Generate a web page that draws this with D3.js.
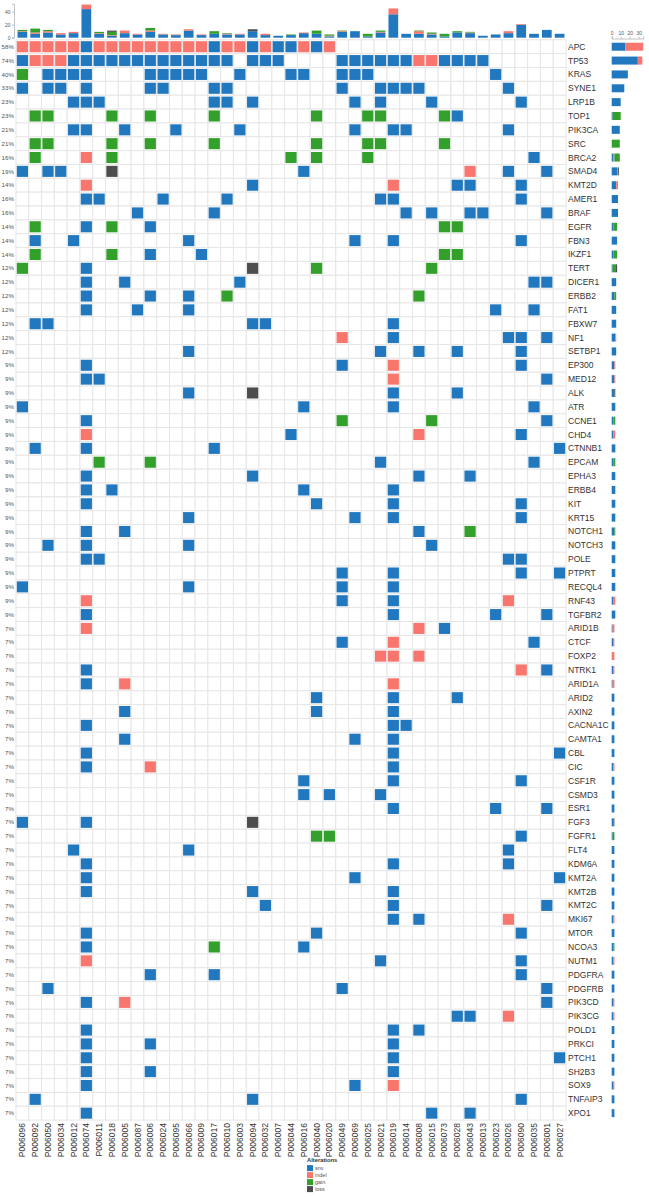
<!DOCTYPE html>
<html><head><meta charset="utf-8">
<script src="https://cdn.jsdelivr.net/npm/d3@7"></script>
<style>
html,body{margin:0;padding:0;background:#fff;}
svg{display:block;font-family:"Liberation Sans",Arial,sans-serif;}
</style></head>
<body><svg id="chart" width="649" height="1197"></svg>
<script>
const samples = ["P006096","P006092","P006050","P006034","P006012","P006074","P006011","P006018","P006005","P006087","P006006","P006024","P006095","P006066","P006009","P006017","P006010","P006003","P006094","P006032","P006007","P006044","P006016","P006040","P006020","P006049","P006069","P006025","P006021","P006019","P006014","P006008","P006015","P006073","P006028","P006043","P006013","P006023","P006026","P006090","P006035","P006001","P006027"];

const genes = ["APC","TP53","KRAS","SYNE1","LRP1B","TOP1","PIK3CA","SRC","BRCA2","SMAD4","KMT2D","AMER1","BRAF","EGFR","FBN3","IKZF1","TERT","DICER1","ERBB2","FAT1","FBXW7","NF1","SETBP1","EP300","MED12","ALK","ATR","CCNE1","CHD4","CTNNB1","EPCAM","EPHA3","ERBB4","KIT","KRT15","NOTCH1","NOTCH3","POLE","PTPRT","RECQL4","RNF43","TGFBR2","ARID1B","CTCF","FOXP2","NTRK1","ARID1A","ARID2","AXIN2","CACNA1C","CAMTA1","CBL","CIC","CSF1R","CSMD3","ESR1","FGF3","FGFR1","FLT4","KDM6A","KMT2A","KMT2B","KMT2C","MKI67","MTOR","NCOA3","NUTM1","PDGFRA","PDGFRB","PIK3CD","PIK3CG","POLD1","PRKCI","PTCH1","SH2B3","SOX9","TNFAIP3","XPO1"];

// alterations per gene: type letter (s=snv, i=indel, g=gain, l=loss) + sample index or range
const geneAlterations = [
"i0-4 s5 i6-14 s15 i16-17 s18 i19 s20-21 i22 s23 i24",
"s0 i1-3 s4-16 s18-20 s25-30 i31-32 s33-36",
"g0 s2-5 s10-14 s17 s21-22 s25-27 s37",
"s0 s2-3 s5 s10-11 s15-16 s25 s28-31 s38",
"s4-6 s15-16 s18 s26 s28 s32 s39",
"g1-2 g7 g10 g15 g23 g27-28 g33 s34",
"s4-5 s8 s12 s17 s26 s29-30 s38",
"g1-2 g7 g10 g15 g23 g27-28 g33",
"g1 i5 g7 g21 g23 g27 s40",
"s0 s2-3 l7 s22 i35 s38 s41",
"i5 s18 i29 s34-35 s39",
"s5-6 s11 s16 s28-29 s39",
"s9 s15 s30 s32 s35-36 s41",
"g1 s5 g7 s10 g33-34",
"s1 s4 s13 s26 s29 s39",
"g1 g7 s10 s14 g33-34",
"g0 s5 l18 g23 g32",
"s5 s8 s17 s40-41",
"s5 s10 s13 g16 g31",
"s5 s9 s13 s37 s40",
"s1-2 s18-19 s29",
"i25 s29 s38-39 s41",
"s13 s28 s31 s34 s39",
"s5 s25 i29 s39",
"s5-6 i29 s41",
"s13 l18 s29 s34",
"s0 s22 s29 s40",
"s5 g25 g32 s41",
"i5 s21 i31 s39",
"s1 s5 s15 s42",
"g6 g10 s28 s40",
"s5 s18 s31 s35",
"s5 s7 s22 s29",
"s5 s23 s29 s39",
"s13 s26 s29 s39",
"s5 s8 s31 g35",
"s2 s5 s13 s32",
"s5-6 s38-39",
"s25 s29 s39 s42",
"s0 s13 s25 s29",
"i5 s25 s29 i38",
"s5 s29 s37 s41",
"i5 i31 s33",
"s25 i29 s40",
"i28 i29 i31",
"s5 i39 s41",
"s5 i8 i29",
"s23 s29 s34",
"s8 s23 s29",
"s5 s29-30",
"s8 s26 s29",
"s5 s29 s42",
"s5 i10 s29",
"s22 s29 s39",
"s22 s24 s28",
"s29 s37 s41",
"s0 s5 l18",
"g23-24 s39",
"s4 s13 s38",
"s5 s29 s38",
"s5 s26 s42",
"s5 s18 s29",
"s19 s29 s41",
"s29 s31 i38",
"s5 s23 s39",
"s5 g15 s22",
"i5 s28 s39",
"s10 s15 s39",
"s2 s25 s41",
"s5 i8 s41",
"s34-35 i38",
"s5 s29 s31",
"s5 s10 s29",
"s5 s29 s42",
"s5 s10 s29",
"s5 s26 i29",
"s1 s18 s39",
"s5 s32 s35"
];

// per-sample alteration counts (top bar chart)
const sampleSnv   = [9,6,8,5,7,44,6,3,7,5,9,5,4,11,4,6,5,5,10,4,3,4,7,6,2,9,10,2,8,36,6,6,5,2,8,7,3,5,7,20,6,12,6];
const sampleIndel = [1,2,2,2,2,7,1,1,4,1,2,1,1,2,1,0,1,1,0,2,0,0,1,0,1,1,0,0,1,9,0,4,1,0,0,1,0,0,3,1,0,0,0];
const sampleGain  = [2,6,2,0,0,0,2,5,0,0,4,0,0,0,0,4,1,0,0,0,0,1,0,5,2,1,0,4,2,0,0,1,2,4,2,1,0,0,0,0,0,0,0];
const sampleLoss  = [0,0,0,0,0,0,0,2,0,0,0,0,0,0,0,0,0,0,3,0,0,0,0,0,0,0,0,0,0,0,0,0,0,0,0,0,0,0,0,0,0,0,0];

// per-gene alteration counts (right bar chart)
const geneSnv   = [15,29,17,14,10,1,9,0,2,6,5,7,7,2,6,2,1,5,3,5,5,4,5,3,3,3,4,2,2,4,2,4,4,4,4,3,4,4,4,4,2,4,1,2,0,2,1,3,3,3,3,3,2,3,3,3,2,1,3,3,3,3,3,2,3,2,2,3,3,2,2,3,3,3,3,2,3,3];
const geneIndel = [20,5,0,0,0,0,0,0,1,1,2,0,0,0,0,0,0,0,0,0,0,1,0,1,1,0,0,0,2,0,0,0,0,0,0,0,0,0,0,0,2,0,2,1,3,1,2,0,0,0,0,0,1,0,0,0,0,0,0,0,0,0,0,1,0,0,1,0,0,1,1,0,0,0,0,1,0,0];
const geneGain  = [0,0,1,0,0,9,0,9,6,0,0,0,0,4,0,4,3,0,2,0,0,0,0,0,0,0,0,2,0,0,2,0,0,0,0,1,0,0,0,0,0,0,0,0,0,0,0,0,0,0,0,0,0,0,0,0,0,2,0,0,0,0,0,0,0,1,0,0,0,0,0,0,0,0,0,0,0,0];
const geneLoss  = [0,0,0,0,0,0,0,0,0,1,0,0,0,0,0,0,2,0,0,0,0,0,0,0,0,1,0,0,0,0,0,0,0,0,0,0,0,0,0,0,0,0,0,0,0,0,0,0,0,0,0,0,0,0,0,0,1,0,0,0,0,0,0,0,0,0,0,0,0,0,0,0,0,0,0,0,0,0];

const types = ["snv","indel","gain","loss"];
const typeColors = ["#2178be","#f8766d","#33a02c","#4d4d4d"];
const topTicks = [0,20,40];
const sideTicks = [0,10,20,30];

const letterType = {s:"snv", i:"indel", g:"gain", l:"loss"};
const color = d3.scaleOrdinal().domain(types).range(typeColors);

const svg = d3.select("#chart");
const gridTop = 39.8, rowH = 13.85;
const x = d3.scaleBand().domain(samples).range([16, 566]);
const y = d3.scaleBand().domain(genes).range([gridTop, gridTop + rowH*genes.length]);
const bw = x.bandwidth(), bh = y.bandwidth();
const gridBottom = gridTop + rowH*genes.length;

// parse alterations
const cells = [];
genes.forEach((g, gi) => {
  geneAlterations[gi].split(/\s+/).filter(t=>t).forEach(tok => {
    const t = letterType[tok[0]];
    const [a, b] = tok.slice(1).split("-").map(Number);
    for (let c = a; c <= (b === undefined ? a : b); c++) cells.push({gene:g, sample:samples[c], type:t});
  });
});
const geneCount = d3.rollup(cells, v => v.length, d => d.gene);

// background grid
const bg = svg.append("g");
genes.forEach(g => {
  bg.selectAll(null).data(samples).join("rect")
    .attr("x", s => x(s)).attr("y", y(g)).attr("width", bw).attr("height", bh)
    .attr("fill", "#fff").attr("stroke", "#e6e6e6").attr("stroke-width", 1);
});

// alteration cells
svg.append("g").selectAll("rect").data(cells).join("rect")
  .attr("x", d => x(d.sample) + 0.8).attr("y", d => y(d.gene) + 1.4)
  .attr("width", bw - 1.6).attr("height", bh - 2.8)
  .attr("fill", d => color(d.type));

// percent labels
svg.append("g").selectAll("text").data(genes).join("text")
  .attr("x", 14).attr("y", g => y(g) + bh/2).attr("dy", "0.35em")
  .attr("text-anchor", "end").attr("font-size", 6.2).attr("fill", "#555")
  .text(g => Math.round((geneCount.get(g)||0)/samples.length*100) + "%");

// gene labels
svg.append("g").selectAll("text").data(genes).join("text")
  .attr("x", 568).attr("y", g => y(g) + bh/2).attr("dy", "0.35em")
  .attr("font-size", 8.5).attr("fill", "#333")
  .text(g => g);

// sample labels
svg.append("g").selectAll("text").data(samples).join("text")
  .attr("transform", s => `translate(${x(s) + bw/2 + 3},${gridBottom + 3}) rotate(-90)`)
  .attr("text-anchor", "end").attr("font-size", 8.5).attr("fill", "#333")
  .text(s => s);

// top stacked bars
const topData = samples.map((s, i) => ({sample:s, snv:sampleSnv[i], indel:sampleIndel[i], gain:sampleGain[i], loss:sampleLoss[i]}));
const topStack = d3.stack().keys(types)(topData);
const yTop = d3.scaleLinear().domain([0, 52]).range([37.7, 3.9]);
svg.append("g").selectAll("g").data(topStack).join("g")
  .attr("fill", d => color(d.key))
  .selectAll("rect").data(d => d).join("rect")
  .attr("x", d => x(d.data.sample) + bw*0.12).attr("width", bw*0.76)
  .attr("y", d => yTop(d[1])).attr("height", d => yTop(d[0]) - yTop(d[1]));
const yAxis = svg.append("g").attr("transform", "translate(14,0)")
  .call(d3.axisLeft(yTop).tickValues(topTicks).tickSize(2).tickPadding(1.5));
yAxis.selectAll("text").attr("font-size", 5).attr("fill", "#555").attr("font-family", "Liberation Sans, Arial");
yAxis.selectAll("line,path").attr("stroke", "#999").attr("stroke-width", 0.6);

// right stacked bars
const sideData = genes.map((g, i) => ({gene:g, snv:geneSnv[i], indel:geneIndel[i], gain:geneGain[i], loss:geneLoss[i]}));
const sideStack = d3.stack().keys(types)(sideData);
const xR = d3.scaleLinear().domain([0, 35]).range([611.7, 643.2]);
const barH = 8;
svg.append("g").selectAll("g").data(sideStack).join("g")
  .attr("fill", d => color(d.key))
  .selectAll("rect").data(d => d).join("rect")
  .attr("y", d => y(d.data.gene) + (bh - barH)/2).attr("height", barH)
  .attr("x", d => xR(d[0])).attr("width", d => xR(d[1]) - xR(d[0]));
const rAxis = svg.append("g").attr("transform", "translate(0,38.5)")
  .call(d3.axisTop(xR).tickValues(sideTicks).tickSize(2).tickPadding(1.5));
rAxis.selectAll("text").attr("font-size", 5).attr("fill", "#555").attr("font-family", "Liberation Sans, Arial");
rAxis.selectAll("line,path").attr("stroke", "#999").attr("stroke-width", 0.6);

// legend
const lg = svg.append("g").attr("transform", `translate(307,${gridBottom + 42})`);
lg.append("text").attr("x", 0).attr("y", 0).attr("font-size", 5.8).attr("font-weight", "bold").attr("fill", "#333").text("Alterations");
const li = lg.selectAll("g.item").data(types).join("g").attr("class", "item")
  .attr("transform", (d, i) => `translate(0,${3 + i*7})`);
li.append("rect").attr("width", 6).attr("height", 6).attr("fill", d => color(d));
li.append("text").attr("x", 8).attr("y", 3).attr("dy", "0.35em").attr("font-size", 5.5).attr("fill", "#555").text(d => d);
</script>
</body></html>
